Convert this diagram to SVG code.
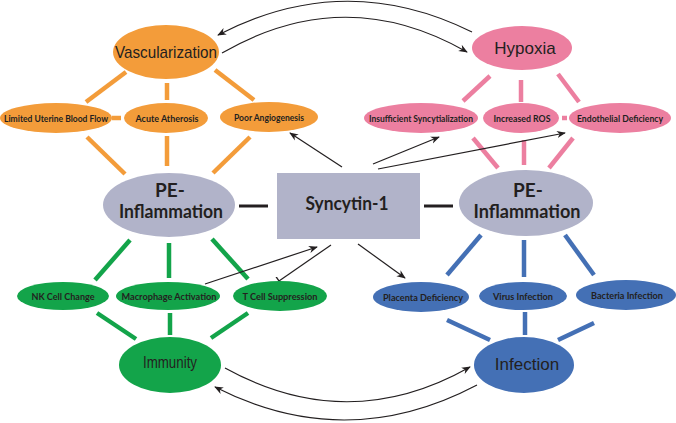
<svg xmlns="http://www.w3.org/2000/svg" width="676" height="423" viewBox="0 0 676 423">
<style>
.or{fill:#F39C3A}.pk{fill:#EC7FA0}.gr{fill:#13A44A}.bl{fill:#4470B5}.gy{fill:#B1B3C9}
.lo{stroke:#F39C3A;stroke-width:4.5}.lp{stroke:#EC7FA0;stroke-width:4.5}.lg{stroke:#13A44A;stroke-width:4.5}.lb{stroke:#4470B5;stroke-width:4.5}
.ld{stroke:#231F20;stroke-width:3}
.ar{stroke:#231F20;stroke-width:1.2;fill:none}
.big{font-family:"Liberation Sans",Arial,sans-serif;font-size:17px;fill:#231F20;text-anchor:middle}
.sm{font-family:Lato,"Open Sans",sans-serif;font-size:10px;font-weight:bold;fill:#231F20;text-anchor:middle}
.pe{font-family:Lato,"Open Sans",sans-serif;font-size:19px;font-weight:bold;fill:#231F20;text-anchor:middle}
</style>
<defs>
<marker id="ah" viewBox="0 0 10 10" refX="9" refY="5" markerWidth="9" markerHeight="9" markerUnits="userSpaceOnUse" orient="auto">
<path d="M0,1 L10,5 L0,9 L3,5 Z" fill="#231F20"/>
</marker>
<marker id="tb" viewBox="0 0 10 10" refX="5" refY="5" markerWidth="10" markerHeight="10" markerUnits="userSpaceOnUse" orient="auto">
<path d="M5,0 L5,10" stroke="#231F20" stroke-width="1.4"/>
</marker>
</defs>
<g id="connectors">
<line class="lo" x1="126" y1="72" x2="86" y2="102"/>
<line class="lo" x1="167" y1="83" x2="167" y2="100"/>
<line class="lo" x1="215" y1="70" x2="254" y2="100"/>
<line class="lo" x1="87" y1="137" x2="125" y2="174"/>
<line class="lo" x1="167" y1="136" x2="167" y2="166"/>
<line class="lo" x1="250" y1="137" x2="213" y2="173"/>
<line class="lo" x1="112" y1="118" x2="121" y2="118"/>
<line class="lp" x1="490" y1="76" x2="463" y2="101"/>
<line class="lp" x1="521" y1="80" x2="521" y2="102"/>
<line class="lp" x1="558" y1="74" x2="579" y2="102"/>
<line class="lp" x1="473" y1="138" x2="498" y2="168"/>
<line class="lp" x1="524" y1="140" x2="524" y2="165"/>
<line class="lp" x1="573" y1="138" x2="549" y2="168"/>
<line class="lp" x1="562" y1="118" x2="567" y2="118"/>
<line class="lg" x1="130" y1="240" x2="95" y2="280"/>
<line class="lg" x1="169" y1="243" x2="169" y2="278"/>
<line class="lg" x1="212" y1="239" x2="248" y2="279"/>
<line class="lg" x1="97" y1="313" x2="136" y2="339"/>
<line class="lg" x1="170" y1="313" x2="170" y2="335"/>
<line class="lg" x1="248" y1="313" x2="211" y2="338"/>
<line class="lb" x1="481" y1="235" x2="447" y2="275"/>
<line class="lb" x1="524" y1="240" x2="524" y2="277"/>
<line class="lb" x1="565" y1="235" x2="594" y2="275"/>
<line class="lb" x1="447" y1="320" x2="490" y2="340"/>
<line class="lb" x1="525" y1="312" x2="525" y2="335"/>
<line class="lb" x1="594" y1="323" x2="558" y2="340"/>
<line class="ld" x1="239" y1="206" x2="268" y2="206"/>
<line class="ld" x1="424" y1="206" x2="453" y2="206"/>
<line class="ar" x1="342" y1="167" x2="290" y2="133" marker-end="url(#ah)"/>
<line class="ar" x1="373" y1="164" x2="439" y2="137" marker-end="url(#ah)"/>
<line class="ar" x1="378" y1="169" x2="565" y2="133" marker-end="url(#ah)"/>
<line class="ar" x1="358" y1="244" x2="405" y2="278" marker-end="url(#ah)"/>
<line class="ar" x1="205" y1="284" x2="317" y2="247" marker-end="url(#ah)"/>
<line class="ar" x1="331" y1="245" x2="279" y2="281" marker-end="url(#tb)"/>
<path class="ar" d="M472,32 Q345,-31 218,35" marker-end="url(#ah)"/>
<path class="ar" d="M222,53 Q345,-18 467,52" marker-end="url(#ah)"/>
<path class="ar" d="M225,368 Q348,436 470,367" marker-end="url(#ah)"/>
<path class="ar" d="M477,385 Q346,454 215,387" marker-end="url(#ah)"/>
</g>
<g id="vascularization"><ellipse class="or" cx="166" cy="52" rx="53" ry="27"/><text class="big" x="166" y="58" textLength="102" lengthAdjust="spacingAndGlyphs">Vascularization</text></g>
<g id="limited-uterine"><ellipse class="or" cx="56" cy="118" rx="56" ry="15"/><text class="sm" x="56" y="121.5" textLength="104" lengthAdjust="spacingAndGlyphs">Limited Uterine Blood Flow</text></g>
<g id="acute-atherosis"><ellipse class="or" cx="166" cy="118" rx="42" ry="15"/><text class="sm" x="167" y="121.5" textLength="63" lengthAdjust="spacingAndGlyphs">Acute Atherosis</text></g>
<g id="poor-angiogenesis"><ellipse class="or" cx="269" cy="117" rx="49" ry="15"/><text class="sm" x="269" y="120.5" textLength="70" lengthAdjust="spacingAndGlyphs">Poor Angiogenesis</text></g>
<g id="hypoxia"><ellipse class="pk" cx="522" cy="48" rx="50" ry="22"/><text class="big" x="525" y="54">Hypoxia</text></g>
<g id="insufficient-syncytialization"><ellipse class="pk" cx="421" cy="118" rx="57" ry="15"/><text class="sm" x="421" y="121.5" textLength="104" lengthAdjust="spacingAndGlyphs">Insufficient Syncytialization</text></g>
<g id="increased-ros"><ellipse class="pk" cx="521" cy="118" rx="38" ry="15"/><text class="sm" x="522" y="121.5" textLength="57" lengthAdjust="spacingAndGlyphs">Increased ROS</text></g>
<g id="endothelial-deficiency"><ellipse class="pk" cx="620" cy="118" rx="51" ry="15"/><text class="sm" x="620" y="121.5" style="font-size:9px" textLength="86" lengthAdjust="spacingAndGlyphs">Endothelial Deficiency</text></g>
<g id="pe-inflammation-left"><ellipse class="gy" cx="169" cy="205" rx="66" ry="32"/><text class="pe" x="170" y="197">PE-</text><text class="pe" x="171" y="218" textLength="104" lengthAdjust="spacingAndGlyphs">Inflammation</text></g>
<g id="syncytin-1"><rect class="gy" x="277" y="173" width="143" height="66"/><text class="pe" x="347" y="210" textLength="83" lengthAdjust="spacingAndGlyphs">Syncytin-1</text></g>
<g id="pe-inflammation-right"><ellipse class="gy" cx="526" cy="203" rx="67" ry="33"/><text class="pe" x="528" y="197">PE-</text><text class="pe" x="527" y="218" textLength="107" lengthAdjust="spacingAndGlyphs">Inflammation</text></g>
<g id="nk-cell-change"><ellipse class="gr" cx="63" cy="296" rx="46" ry="14"/><text class="sm" x="63" y="299.5" textLength="63" lengthAdjust="spacingAndGlyphs">NK Cell Change</text></g>
<g id="macrophage-activation"><ellipse class="gr" cx="168" cy="296" rx="52" ry="14"/><text class="sm" x="169" y="300" textLength="95" lengthAdjust="spacingAndGlyphs">Macrophage Activation</text></g>
<g id="t-cell-suppression"><ellipse class="gr" cx="280" cy="296" rx="47" ry="15"/><text class="sm" x="280" y="299.5" textLength="75" lengthAdjust="spacingAndGlyphs">T Cell Suppression</text></g>
<g id="immunity"><ellipse class="gr" cx="170" cy="365" rx="51" ry="28"/><text class="big" x="170" y="368" textLength="54" lengthAdjust="spacingAndGlyphs">Immunity</text></g>
<g id="placenta-deficiency"><ellipse class="bl" cx="421" cy="297" rx="48" ry="15"/><text class="sm" x="423" y="300.5" textLength="80" lengthAdjust="spacingAndGlyphs">Placenta Deficiency</text></g>
<g id="virus-infection"><ellipse class="bl" cx="523" cy="296" rx="44" ry="14"/><text class="sm" x="523" y="299.5" textLength="60" lengthAdjust="spacingAndGlyphs">Virus Infection</text></g>
<g id="bacteria-infection"><ellipse class="bl" cx="626" cy="295" rx="50" ry="15"/><text class="sm" x="627" y="298.5" textLength="72" lengthAdjust="spacingAndGlyphs">Bacteria Infection</text></g>
<g id="infection"><ellipse class="bl" cx="524" cy="365" rx="50" ry="28"/><text class="big" x="527" y="370">Infection</text></g>
</svg>
